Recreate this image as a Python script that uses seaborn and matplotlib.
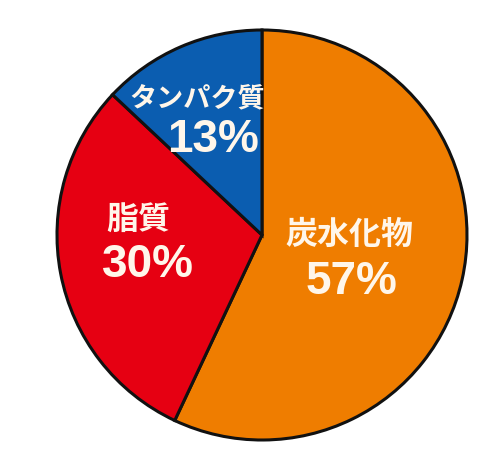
import matplotlib
matplotlib.use("Agg")
import matplotlib.pyplot as plt
import seaborn as sns

sns.set_theme(style="white")
plt.rcParams['font.family'] = ['Noto Sans CJK JP', 'DejaVu Sans']

categories = ["炭水化物", "脂質", "タンパク質"]
values = [57, 30, 13]
pct_labels = ["57%", "30%", "13%"]
colors = ["#EF7D00", "#E60012", "#0B5DB0"]

fig = plt.figure(figsize=(5.0, 4.71), dpi=100)
ax = fig.add_axes([0, 0, 1, 1])
ax.pie(values, colors=colors, startangle=90, counterclock=False,
       radius=1.0, center=(0, 0),
       wedgeprops=dict(edgecolor="#111111", linewidth=2.2))
ax.set_xlim(-262 / 205, (500 - 262) / 205)
ax.set_ylim((235 - 471) / 205, 235 / 205)
ax.set_aspect("auto")
ax.axis("off")

def px(x, y):
    return ((x - 262) / 205, (235 - y) / 205)

text_color = "#FFF6EA"
name_pos = [(349, 235), (138, 220), (197, 98)]
name_size = [23, 23, 19.5]
pct_pos = [(352, 282), (148, 265), (213, 140)]
pct_size = [33, 33, 33]

for name, pl, npos, ns, ppos, ps in zip(categories, pct_labels, name_pos, name_size, pct_pos, pct_size):
    ax.text(*px(*npos), name, ha="center", va="center", fontsize=ns,
            color=text_color, fontweight="bold",
            family=['Noto Sans CJK JP', 'DejaVu Sans'])
    ax.text(*px(*ppos), pl, ha="center", va="center", fontsize=ps,
            color=text_color, fontweight="bold",
            family=['Liberation Sans', 'DejaVu Sans'])

fig.savefig("out.png", dpi=100, facecolor="white")
